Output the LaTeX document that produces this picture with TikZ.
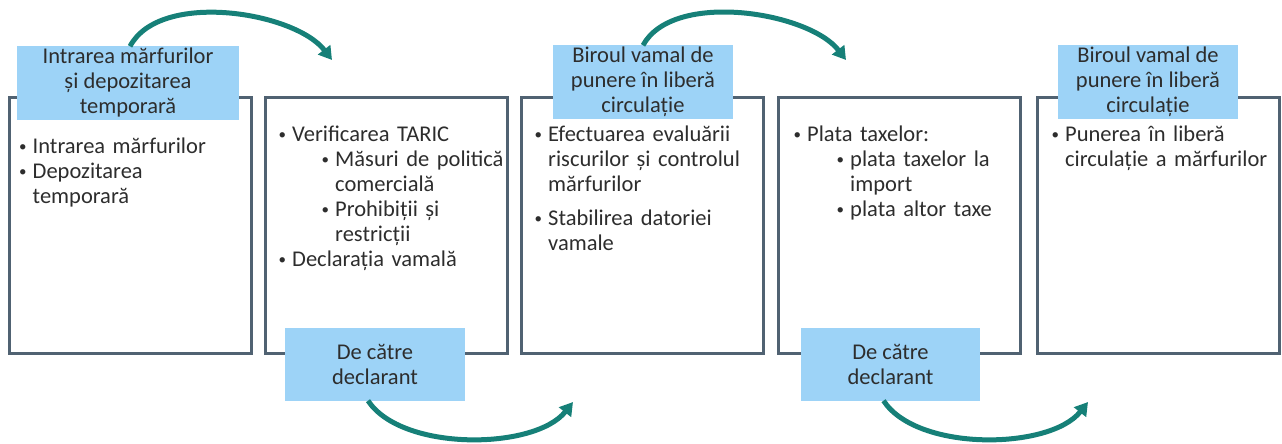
\documentclass[tikz,border=0pt]{standalone}
\usepackage{fontspec}
\setmainfont{Carlito}
\usepackage{tikz}
\usetikzlibrary{shapes.geometric, arrows.meta}
\definecolor{boxline}{RGB}{80,98,114}
\definecolor{labfill}{RGB}{157,211,247}
\definecolor{flowteal}{RGB}{22,128,120}
\definecolor{txtgray}{RGB}{45,45,45}
\tikzset{
  font={\fontsize{22.5pt}{25pt}\selectfont}}
\newcommand{\dotmark}{\makebox[15pt][l]{\hspace{1.5pt}\raisebox{2.2pt}{\fontsize{15pt}{15pt}\selectfont\textbullet}}}
\newcommand{\bitem}[1]{\par\leftskip=0pt\hangindent=15pt\hangafter=1\noindent\dotmark\strut#1}
\newcommand{\bsub}[1]{\par\leftskip=43pt\hangindent=15pt\hangafter=1\noindent\dotmark\strut#1}

\begin{document}
\begin{tikzpicture}[x=1pt, y=-1pt,
  stagebox/.style={draw=boxline, line width=3pt, minimum width=242pt, minimum height=256pt},
  labbox/.style={fill=labfill, text=txtgray, align=center, minimum height=73pt, inner sep=0pt},
  items/.style={anchor=north west, text=txtgray, text width=240pt, inner sep=0pt},
  flow/.style={draw=flowteal, line width=5pt, -{Triangle[length=13pt, width=15pt]}}]
  \useasboundingbox (0,0) rectangle (1282,444);
  \node (stage1) [stagebox] at (130.5,225.5) {};
  \node (stage2) [stagebox] at (386.5,225.5) {};
  \node (stage3) [stagebox] at (642.5,225.5) {};
  \node (stage4) [stagebox] at (899,225.5) {};
  \node (stage5) [stagebox] at (1158,225.5) {};

  \node (lab1) [labbox, minimum width=222pt] at (128,83) {Intrarea mărfurilor\\și depozitarea\\temporară};
  \node (lab3) [labbox, minimum width=180pt] at (643,82) {Biroul vamal de\\punere în liberă\\circulație};
  \node (lab5) [labbox, minimum width=180pt] at (1148,82) {Biroul vamal de\\punere în liberă\\circulație};
  \node (lab2) [labbox, minimum width=180pt] at (375,364) {De către\\declarant};
  \node (lab4) [labbox, minimum width=179pt] at (890.5,364) {De către\\declarant};

  \node (txt1) [items] at (17.5,128) {\bitem{Intrarea mărfurilor}\bitem{Depozitarea\newline temporară}\par};
  \node (txt2) [items] at (277,116.5) {\bitem{Verificarea TARIC}\bsub{Măsuri de politică\newline comercială}\bsub{Prohibiții și\newline restricții}\bitem{Declarația vamală}\par};
  \node (txt3) [items] at (533,116.5) {\bitem{Efectuarea evaluării\newline riscurilor și controlul\newline mărfurilor}\par\vspace{9pt}\bitem{Stabilirea datoriei\newline vamale}\par};
  \node (txt4) [items] at (792,116.5) {\bitem{Plata taxelor:}\bsub{plata taxelor la\newline import}\bsub{plata altor taxe}\par};
  \node (txt5) [items] at (1050,116.5) {\bitem{Punerea în liberă\newline circulație a mărfurilor}\par};

  \coordinate (in2) at (332,60);
  \coordinate (in4) at (846,60);
  \coordinate (in3) at (573,402);
  \coordinate (in5) at (1088,402);
  \draw[flow] ([xshift=2pt]lab1.north) .. controls (160,-10) and (295,12) .. (in2);
  \draw[flow] (lab3.north) .. controls (673,-10) and (809,12) .. (in4);
  \draw[flow] ([xshift=-7pt]lab2.south) .. controls (402,452) and (535,450) .. (in3);
  \draw[flow] ([xshift=-7pt]lab4.south) .. controls (917,452) and (1050,450) .. (in5);
\end{tikzpicture}
\end{document}
